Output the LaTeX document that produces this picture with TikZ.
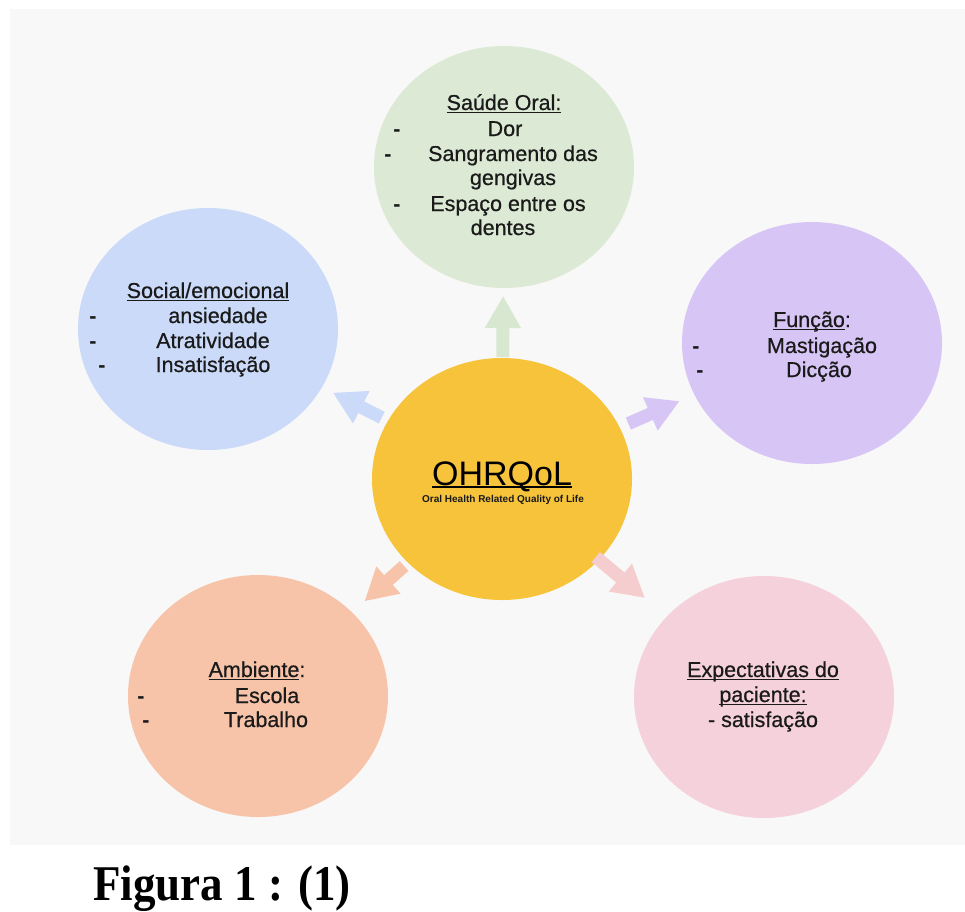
\documentclass[tikz,border=0pt]{standalone}
\usepackage{fontspec}
\setmainfont{Liberation Sans}[FakeBold=0.6]
\newfontfamily\subfont{Liberation Sans}
\newfontfamily\capfont{Liberation Serif}
\usetikzlibrary{shapes.geometric,arrows.meta,calc}
\definecolor{bgGrey}{HTML}{F8F8F8}
\definecolor{cGreen}{HTML}{DCE9D4}
\definecolor{aGreen}{HTML}{D8E7D0}
\definecolor{cBlue}{HTML}{CADAF8}
\definecolor{cPurple}{HTML}{D7C6F5}
\definecolor{cYellow}{HTML}{F6C33A}
\definecolor{cSalmon}{HTML}{F7C4A9}
\definecolor{cPink}{HTML}{F5D1DC}
\definecolor{aPink}{HTML}{F6CDCF}
\definecolor{txtCol}{HTML}{1A1A1A}
\newcommand\myul[2][1.3pt]{\setbox0\hbox{#2}\rlap{\rule[-3pt]{\wd0}{#1}}\box0}
\begin{document}
\begin{tikzpicture}[x=1pt,y=-1pt,
  bubble/.style={ellipse, minimum width=260pt, minimum height=242pt, inner sep=0pt, draw=none},
  txt/.style={font=\fontsize{21.5}{25}\selectfont, anchor=base, inner sep=0pt, text=txtCol},
  bul/.style={txt, font=\subfont\bfseries\fontsize{21.5}{25}\selectfont},
  blockarrow/.style={line width=13pt, -{Triangle[width=34pt,length=32pt]}}]
\useasboundingbox (0,0) rectangle (965,911);
\fill[white] (0,0) rectangle (965,911);
\fill[bgGrey] (10,9) rectangle (965,845);

% circles
\node[bubble, fill=cGreen]  (G) at (504,167) {};
\node[bubble, fill=cBlue]   (B) at (208,329) {};
\node[bubble, fill=cPurple] (P) at (812,343) {};
\node[bubble, fill=cYellow] (Y) at (502,479) {};
\node[bubble, fill=cSalmon] (S) at (258,696) {};
\node[bubble, fill=cPink]   (K) at (764,697) {};

% arrows
\draw[blockarrow, draw=aGreen]  ($(Y.center)!122pt!(G.center)$) -- ($(Y.center)!183pt!(G.center)$);
\draw[blockarrow, draw=cBlue]   ($(Y.center)!135pt!(B.center)$) -- ($(Y.center)!190pt!(B.center)$);
\draw[blockarrow, draw=cPurple] ($(Y.center)!138pt!(P.center)$) -- ($(Y.center)!194pt!(P.center)$);
\draw[blockarrow, draw=cSalmon] ($(Y.center)!131pt!(S.center)$) -- ($(Y.center)!184pt!(S.center)$);
\draw[blockarrow, draw=aPink]   ($(Y.center)!122pt!(K.center)$) -- ($(Y.center)!186pt!(K.center)$);

% green: Saude Oral
\node[txt] (g0) at (504,110) {\myul{Saúde Oral:}};
\node[txt] (g1) at (505,136) {Dor};
\node[txt] (g2) at (513,161) {Sangramento das};
\node[txt] (g3) at (513,185) {gengivas};
\node[txt] (g4) at (508,211) {Espaço entre os};
\node[txt] (g5) at (503,235) {dentes};
\node[bul] (gd1) at (397,136) {-};
\node[bul] (gd2) at (388,161) {-};
\node[bul] (gd3) at (397,211) {-};

% blue: Social/emocional
\node[txt] (b0) at (208,298) {\myul{Social/emocional}};
\node[txt] (b1) at (218,323) {ansiedade};
\node[txt] (b2) at (213,348) {Atratividade};
\node[txt] (b3) at (213,372) {Insatisfação};
\node[bul] (bd1) at (93,323) {-};
\node[bul] (bd2) at (93,348) {-};
\node[bul] (bd3) at (102,372) {-};

% purple: Funcao
\node[txt] (p0) at (812,327) {\myul{Função}:};
\node[txt] (p1) at (822,353) {Mastigação};
\node[txt] (p2) at (819,377) {Dicção};
\node[bul] (pd1) at (696,353) {-};
\node[bul] (pd2) at (700,377) {-};

% yellow: OHRQoL
\node[anchor=base, inner sep=0pt, text=black, font=\subfont\fontsize{34}{38}\selectfont] (y0) at (502,485) {\myul[2.4pt]{OHRQoL}};
\node[anchor=base, inner sep=0pt, text=txtCol, font=\subfont\fontsize{10}{12}\selectfont\bfseries] (y1) at (503,502) {Oral Health Related Quality of Life};

% salmon: Ambiente
\node[txt] (s0) at (257,677) {\myul{Ambiente}:};
\node[txt] (s1) at (267,703) {Escola};
\node[txt] (s2) at (266,727) {Trabalho};
\node[bul] (sd1) at (141,703) {-};
\node[bul] (sd2) at (146,727) {-};

% pink: Expectativas
\node[txt] (k0) at (763,677) {\myul{Expectativas do}};
\node[txt] (k1) at (763,702) {\myul{paciente:}};
\node[txt] (k2) at (763,727) {- satisfação};

% caption
\node[anchor=base west, inner sep=0pt, text=black, font=\capfont\bfseries\fontsize{50}{56}\selectfont] (cap) at (93,900) {\scalebox{0.9}[1]{Figura 1 : (1)}};
\end{tikzpicture}
\end{document}
